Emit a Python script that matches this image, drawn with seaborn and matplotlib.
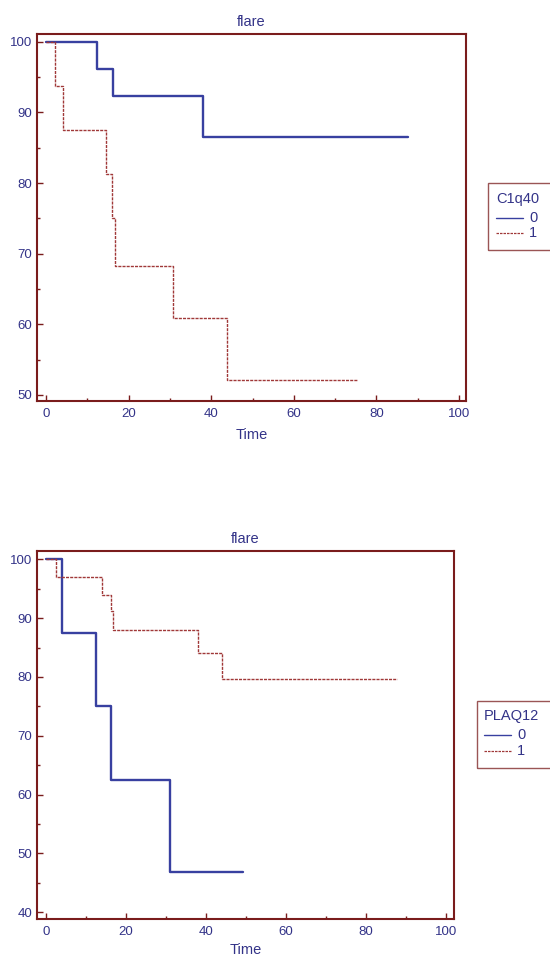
import matplotlib
matplotlib.use("Agg")
import matplotlib.pyplot as plt
from matplotlib.lines import Line2D
from matplotlib.patches import Rectangle
from matplotlib.ticker import MultipleLocator
import seaborn as sns
import pandas as pd

# ---- data (Kaplan-Meier step curves) ----
top_title = "flare"
top_factor = "C1q40"
top_t0 = [0, 12.3, 16.1, 37.9, 87.6]
top_s0 = [100, 96.15, 92.31, 86.54, 86.54]
top_t1 = [0, 2.2, 4.2, 14.4, 15.9, 16.6, 30.8, 43.8, 75.2]
top_s1 = [100, 93.75, 87.5, 81.25, 75.0, 68.2, 60.9, 52.1, 52.1]

bot_title = "flare"
bot_factor = "PLAQ12"
bot_t0 = [0, 4.1, 12.4, 16.2, 31.0, 49.3]
bot_s0 = [100, 87.5, 75.0, 62.5, 46.9, 46.9]
bot_t1 = [0, 2.4, 14.1, 16.2, 16.7, 38.0, 43.9, 87.8]
bot_s1 = [100, 97.0, 94.0, 91.2, 88.0, 84.0, 79.6, 79.6]

group_labels = ["0", "1"]
x_label = "Time"

# ---- styling ----
sns.set_theme(style="white")
plt.rcParams["font.family"] = ["Liberation Sans", "DejaVu Sans"]
TXT = "#333388"
SPINE = "#7a1c1c"
BLUE = "#3840a0"
RED = "#a03838"
FS = 10.5

fig = plt.figure(figsize=(5.5, 9.57), dpi=100)
W, H = 550, 957


def frac_box(l, t, r, b):
    return [l / W, 1 - b / H, (r - l) / W, (b - t) / H]


def make_panel(box, title, t0, s0, t1, s1, xlim, ylim, yticks, lpad):
    ax = fig.add_axes(box)
    df0 = pd.DataFrame({"Time": t0, "S": s0})
    df1 = pd.DataFrame({"Time": t1, "S": s1})
    sns.lineplot(data=df0, x="Time", y="S", ax=ax, color=BLUE, lw=1.7,
                 drawstyle="steps-post", estimator=None, sort=False)
    sns.lineplot(data=df1, x="Time", y="S", ax=ax, color=RED, lw=1.0,
                 drawstyle="steps-post", estimator=None, sort=False,
                 dashes=False, linestyle=(0, (2.2, 0.8)))
    ax.set_xlim(*xlim)
    ax.set_ylim(*ylim)
    ax.xaxis.set_major_locator(MultipleLocator(20))
    ax.xaxis.set_minor_locator(MultipleLocator(10))
    ax.set_yticks(yticks)
    ax.yaxis.set_minor_locator(MultipleLocator(5))
    for sp in ax.spines.values():
        sp.set_color(SPINE)
        sp.set_linewidth(1.5)
    ax.tick_params(which="both", direction="in", colors=SPINE,
                   labelcolor=TXT, labelsize=9.5, bottom=True, left=True,
                   top=False, right=False)
    ax.tick_params(which="major", length=4, width=1)
    ax.tick_params(which="minor", length=2.5, width=1)
    ax.tick_params(axis="x", pad=5)
    ax.tick_params(axis="y", pad=3.5)
    ax.set_xlabel(x_label, color=TXT, fontsize=FS, labelpad=lpad)
    ax.set_ylabel("")
    ax.set_title(title, color=TXT, fontsize=FS, pad=6)
    ax.set_facecolor("white")
    return ax


ax1 = make_panel(frac_box(37, 34, 466, 401), top_title, top_t0, top_s0,
                 top_t1, top_s1, (-2.2, 101.7), (49.15, 101.1),
                 [50, 60, 70, 80, 90, 100], 6)
ax2 = make_panel(frac_box(37, 551, 454, 919), bot_title, bot_t0, bot_s0,
                 bot_t1, bot_s1, (-2.25, 102), (38.86, 101.4),
                 [40, 50, 60, 70, 80, 90, 100], 3.5)


def draw_legend(l, t, b, title, text_x, ty, y0, y1):
    fig.patches.append(Rectangle((l / W, 1 - b / H), (W + 20 - l) / W, (b - t) / H,
                                 transform=fig.transFigure, fill=False,
                                 edgecolor="#9a5555", lw=1.0))
    fig.text(text_x / W, 1 - ty / H, title, color=TXT, fontsize=FS,
             va="center", ha="left")
    for yy, col, ls, lw, lab in [(y0, BLUE, "-", 1.0, group_labels[0]),
                                 (y1, RED, (0, (2, 0.8)), 0.9, group_labels[1])]:
        fig.add_artist(Line2D([text_x / W, (text_x + 27) / W],
                              [1 - yy / H, 1 - yy / H], color=col, ls=ls, lw=lw,
                              transform=fig.transFigure))
        fig.text((text_x + 33) / W, 1 - yy / H, lab, color=TXT, fontsize=FS,
                 va="center", ha="left")


draw_legend(488, 183, 250, top_factor, 496, 199, 218, 233)
draw_legend(477, 701, 768, bot_factor, 484, 716, 735, 751)

fig.savefig("out.png", dpi=100, facecolor="white")
